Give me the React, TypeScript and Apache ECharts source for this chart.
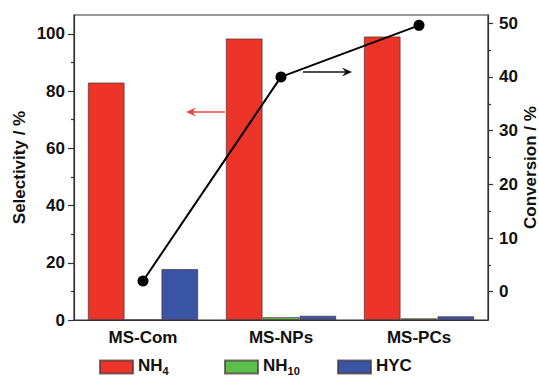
import React, { useEffect, useRef } from "react";
import * as echarts from "echarts";

const categories = ["MS-Com", "MS-NPs", "MS-PCs"];
const nh4 = [83.0, 98.4, 99.1];
const nh10 = [0, 1.0, 0.6];
const hyc = [17.8, 1.5, 1.3];
const conversion = [2.0, 40.0, 49.6];

const leftLabels = [0, 20, 40, 60, 80, 100];
const leftMinor = [10, 30, 50, 70, 90];
const rightLabels = [0, 10, 20, 30, 40, 50];
const rightMinor = [5, 15, 25, 35, 45];
const legendNames = ["NH4", "NH10", "HYC"];

const FONT = "Liberation Sans, Arial, sans-serif";
const AXIS = "#333";
const RED = "#EC3428";
const GREEN = "#5DBF4B";
const BLUE = "#3B55A6";

export default function App() {
  const ref = useRef<HTMLDivElement>(null);
  useEffect(() => {
    if (!ref.current) return;
    const chart = echarts.init(ref.current, null, { renderer: "svg" });
    const labelStyle = { fontFamily: FONT, fontWeight: "bold", fontSize: 17, color: "#111" };
    const barBorder = { borderColor: "rgba(70,50,50,0.7)", borderWidth: 1 };
    const legendLefts = [99, 224, 337];
    const legends = legendNames.map((n, i) => ({
      left: legendLefts[i],
      top: 357,
      padding: 0,
      itemWidth: 33,
      itemHeight: 13,
      icon: "rect",
      data: [n],
      formatter: (name: string) => (name.startsWith("NH") ? `{b|NH}{sub|${name.slice(2)}}` : `{b|${name}}`),
      textStyle: {
        ...labelStyle,
        rich: {
          b: { fontFamily: FONT, fontWeight: "bold", fontSize: 17, color: "#111", lineHeight: 20, verticalAlign: "top" },
          sub: { fontFamily: FONT, fontWeight: "bold", fontSize: 11, color: "#111", lineHeight: 12, padding: [8, 0, 0, 0], verticalAlign: "top" },
        },
      },
    }));
    chart.setOption({
      animation: false,
      backgroundColor: "#fff",
      grid: {
        left: 74,
        right: 51,
        top: 15,
        bottom: 60,
        show: true,
        borderColor: AXIS,
        borderWidth: 1.2,
        backgroundColor: "transparent",
        containLabel: false,
        outerBoundsMode: "none",
      },
      xAxis: [
        {
          type: "category",
          data: categories,
          boundaryGap: true,
          axisLine: { lineStyle: { color: AXIS, width: 1.2 } },
          axisTick: { alignWithLabel: true, length: 6, lineStyle: { color: AXIS, width: 1.2 } },
          axisLabel: { ...labelStyle, margin: 9 },
        },
        {
          type: "category",
          data: categories,
          boundaryGap: true,
          position: "bottom",
          axisLine: { show: false },
          axisTick: { alignWithLabel: false, length: 3, lineStyle: { color: AXIS, width: 1.2 } },
          axisLabel: { show: false },
        },
      ],
      yAxis: [
        {
          type: "value",
          position: "left",
          min: 0,
          max: 106.6,
          splitLine: { show: false },
          axisLine: { show: true, lineStyle: { color: AXIS, width: 1.2 } },
          axisTick: { show: true, length: 6, customValues: leftLabels, lineStyle: { color: AXIS, width: 1.2 } },
          axisLabel: { ...labelStyle, margin: 9, customValues: leftLabels },
          name: "Selectivity / %",
          nameLocation: "middle",
          nameGap: 46,
          nameMoveOverlap: false,
          nameTextStyle: { ...labelStyle, lineHeight: 17 },
        },
        {
          type: "value",
          position: "right",
          min: -5.27,
          max: 51.53,
          splitLine: { show: false },
          axisLine: { show: true, lineStyle: { color: AXIS, width: 1.2 } },
          axisTick: { show: true, length: 5, customValues: rightLabels, lineStyle: { color: AXIS, width: 1.2 } },
          axisLabel: { ...labelStyle, margin: 11, customValues: rightLabels },
          name: "Conversion / %",
          nameLocation: "middle",
          nameGap: 34,
          nameMoveOverlap: false,
          nameTextStyle: { ...labelStyle, lineHeight: 17 },
        },
        {
          type: "value",
          position: "left",
          offset: 0,
          min: 0,
          max: 106.6,
          splitLine: { show: false },
          axisLine: { show: false },
          axisTick: { show: true, length: 3, customValues: leftMinor, lineStyle: { color: AXIS, width: 1.2 } },
          axisLabel: { show: false },
        },
        {
          type: "value",
          position: "right",
          offset: 0,
          min: -5.27,
          max: 51.53,
          splitLine: { show: false },
          axisLine: { show: false },
          axisTick: { show: true, length: 3, customValues: rightMinor, lineStyle: { color: AXIS, width: 1.2 } },
          axisLabel: { show: false },
        },
      ],
      legend: legends,
      series: [
        { name: "NH4", type: "bar", data: nh4, barGap: "0%", barCategoryGap: "20%", itemStyle: { color: RED, ...barBorder } },
        { name: "NH10", type: "bar", data: nh10, itemStyle: { color: GREEN, ...barBorder } },
        { name: "HYC", type: "bar", data: hyc, itemStyle: { color: BLUE, ...barBorder } },
        {
          name: "Conversion",
          type: "line",
          yAxisIndex: 1,
          data: conversion,
          symbol: "circle",
          symbolSize: 11,
          z: 5,
          lineStyle: { color: "#000", width: 2 },
          itemStyle: { color: "#000" },
        },
      ],
      graphic: [
        { type: "line", shape: { x1: 189, y1: 112, x2: 225, y2: 112 }, style: { stroke: "#F0403A", lineWidth: 1.6 } },
        { type: "polygon", shape: { points: [[186, 112], [196, 107.5], [192.5, 112], [196, 116.5]] }, style: { fill: "#F0403A" } },
        { type: "line", shape: { x1: 303, y1: 72, x2: 348, y2: 72 }, style: { stroke: "#111", lineWidth: 1.6 } },
        { type: "polygon", shape: { points: [[352, 72], [342, 67.5], [345.5, 72], [342, 76.5]] }, style: { fill: "#111" } },
      ],
    });
    return () => chart.dispose();
  }, []);
  return <div ref={ref} style={{ width: 539, height: 380, position: "absolute", left: 0, top: 0 }} />;
}
